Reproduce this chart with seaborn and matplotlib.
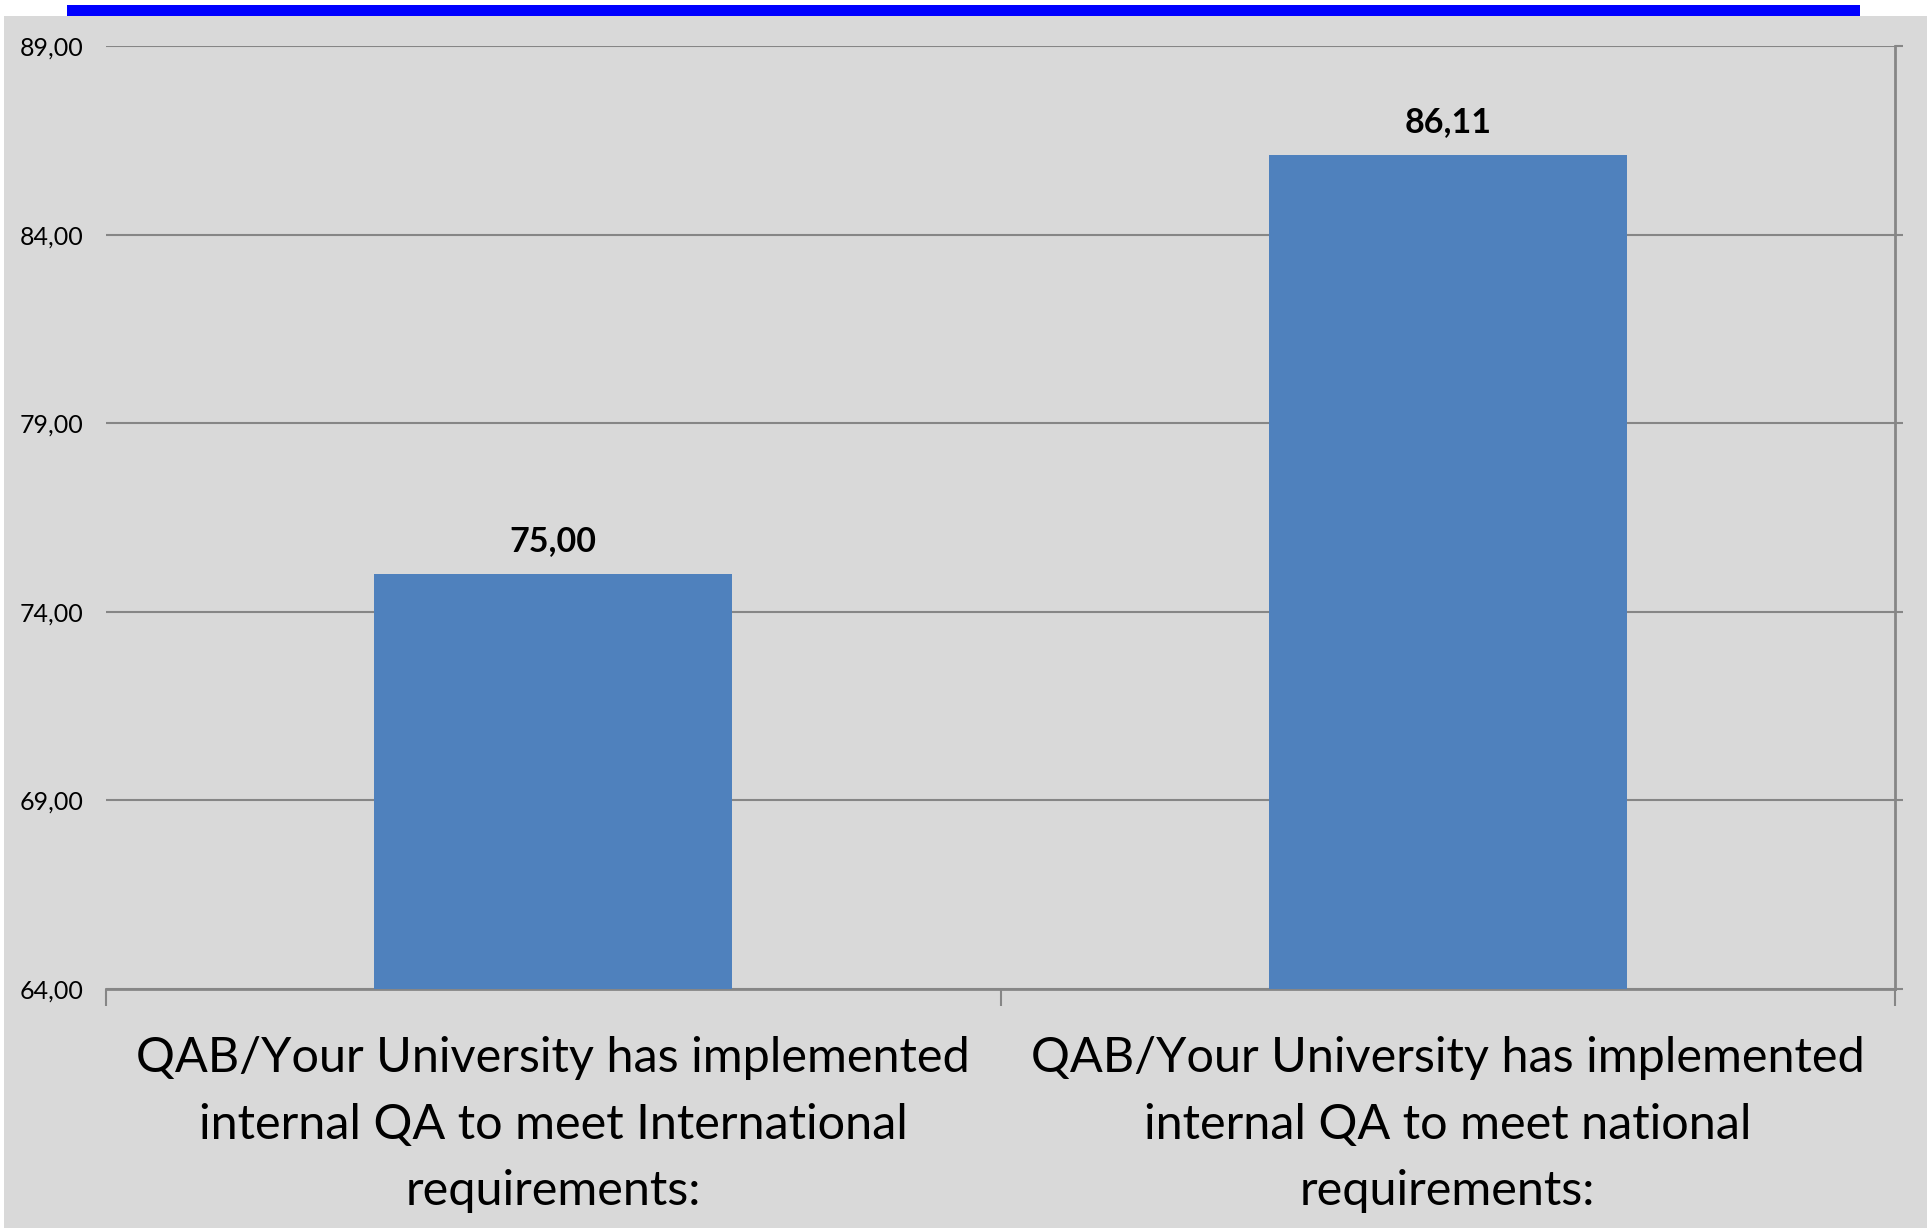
import matplotlib
matplotlib.use("Agg")
import matplotlib.pyplot as plt
import seaborn as sns
import pandas as pd
from matplotlib.patches import Rectangle

categories = [
    "QAB/Your University has implemented\ninternal QA to meet International\nrequirements:",
    "QAB/Your University has implemented\ninternal QA to meet national\nrequirements:",
]
values = [75.00, 86.11]
value_labels = ["75,00", "86,11"]
y_ticks = [64, 69, 74, 79, 84, 89]
y_tick_labels = ["64,00", "69,00", "74,00", "79,00", "84,00", "89,00"]

plt.rcParams['font.family'] = ['Lato', 'DejaVu Sans']

W, H = 1927, 1230
fig = plt.figure(figsize=(W / 100, H / 100), dpi=100)
fig.patch.set_facecolor("white")
fig.patches.append(Rectangle((4 / W, 2 / H), 1 - 4 / W, 1 - 18 / H, transform=fig.transFigure,
                             facecolor="#D9D9D9", edgecolor="none", zorder=-10))
fig.patches.append(Rectangle((67 / W, 1 - 16 / H), (1860 - 67) / W, 11 / H, transform=fig.transFigure,
                             facecolor="#0000FF", edgecolor="none", zorder=-9))

ax = fig.add_axes([106 / W, 1 - 989 / H, (1895 - 106) / W, (989 - 46) / H])
ax.set_facecolor("none")

df = pd.DataFrame({"cat": categories, "val": values})
sns.barplot(data=df, x="cat", y="val", color="#4F81BD", width=0.4, saturation=1, ax=ax, zorder=3)
for p in ax.patches:
    p.set_edgecolor("none")

ax.set_ylim(64, 89)
ax.set_xlim(-0.5, 1.5)
ax.set_yticks(y_ticks)
ax.set_yticklabels(y_tick_labels, fontsize=18)
ax.yaxis.grid(True, color="#868686", linewidth=1.5, zorder=1)
ax.set_axisbelow(True)
ax.tick_params(axis="y", left=False, right=True, direction="out", length=6, width=1.5,
               color="#868686", pad=10)

ax.set_xticks([0, 1])
ax.set_xticklabels(categories, fontsize=35, linespacing=1.62)
ax.set_xticks([-0.5, 0.5, 1.5], minor=True)
ax.tick_params(axis="x", which="major", length=0, pad=34)
ax.tick_params(axis="x", which="minor", length=12, width=1.5, color="#868686", direction="out")

ax.set_xlabel("")
ax.set_ylabel("")
for s in ["left", "top"]:
    ax.spines[s].set_visible(False)
for s in ["right", "bottom"]:
    ax.spines[s].set_color("#868686")
    ax.spines[s].set_linewidth(2)

for i, (v, lab) in enumerate(zip(values, value_labels)):
    ax.annotate(lab, (i, v), xytext=(0, 12.5), textcoords="offset points", ha="center", va="bottom",
                fontsize=24.5, fontweight="bold", color="black")

fig.savefig("out.png", dpi=100)
